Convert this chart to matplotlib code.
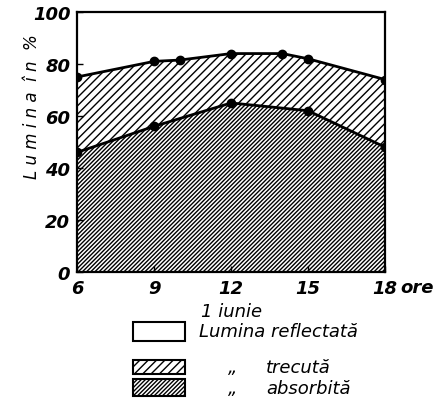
"""Light reflected / transmitted / absorbed by hour (1 iunie)."""

import matplotlib
matplotlib.use('Agg')
import matplotlib.pyplot as plt
from matplotlib.patches import Rectangle

# Data
upper_hours = [6, 9, 10, 12, 14, 15, 18]
upper_pct = [75, 81, 81.5, 84, 84, 82, 74]   # top of "trecută" band
lower_hours = [6, 9, 12, 15, 18]
lower_pct = [46, 56, 65, 62, 48]              # top of "absorbită" band
x_ticks = [6, 9, 12, 15, 18]
y_ticks = [0, 20, 40, 60, 80, 100]
legend_labels = ['Lumina reflectată', 'trecută', 'absorbită']

plt.rcParams['font.family'] = ['DejaVu Sans']
plt.rcParams['font.style'] = 'oblique'
plt.rcParams['hatch.linewidth'] = 1.0

fig = plt.figure(figsize=(4.36, 4.06), dpi=100)
ax = fig.add_axes([0.177, 0.328, 0.706, 0.640])

# absorbed band: from 0 up to the lower line
ax.fill(lower_hours + [lower_hours[-1], lower_hours[0]],
        lower_pct + [0, 0],
        facecolor='white', edgecolor='black', hatch='////////', linewidth=0)
# transmitted band: between lower and upper lines
ax.fill(upper_hours + lower_hours[::-1],
        upper_pct + lower_pct[::-1],
        facecolor='white', edgecolor='black', hatch='////', linewidth=0)

ax.plot(upper_hours, upper_pct, color='black', lw=2, marker='o', ms=6, zorder=3)
ax.plot(lower_hours, lower_pct, color='black', lw=2, marker='o', ms=6, zorder=3)

ax.set_xlim(6, 18)
ax.set_ylim(0, 100)
ax.set_xticks(x_ticks)
ax.set_yticks(y_ticks)
ax.tick_params(direction='in', length=4, width=1, labelsize=13, pad=5)
for lbl in ax.get_xticklabels() + ax.get_yticklabels():
    lbl.set_fontweight('bold')
for s in ax.spines.values():
    s.set_linewidth(1.6)

ax.text(1.05, -0.025, 'ore', transform=ax.transAxes, ha='left', va='top',
        fontsize=13, fontweight='bold')
ax.set_xlabel('1 iunie', fontsize=13, labelpad=4)
ax.text(-0.146, 0.64, 'L u m i n a  î n  %', transform=ax.transAxes,
        rotation=90, ha='center', va='center', fontsize=12)

# hand-made legend under the plot
hatches = ['', '////', '////////']
rows_y = [0.158, 0.076, 0.022]
rows_h = [0.047, 0.034, 0.042]
for h, y, hh in zip(hatches, rows_y, rows_h):
    fig.patches.append(Rectangle((0.305, y), 0.119, hh, transform=fig.transFigure,
                                 facecolor='white', edgecolor='black', hatch=h,
                                 linewidth=1.5))
fig.text(0.457, rows_y[0] + rows_h[0] / 2, legend_labels[0], va='center', fontsize=13)
for label, y, hh in zip(legend_labels[1:], rows_y[1:], rows_h[1:]):
    fig.text(0.523, y + hh / 2, '„', va='center', fontsize=13)
    fig.text(0.61, y + hh / 2, label, va='center', fontsize=13)

fig.savefig('out.png', dpi=100)
